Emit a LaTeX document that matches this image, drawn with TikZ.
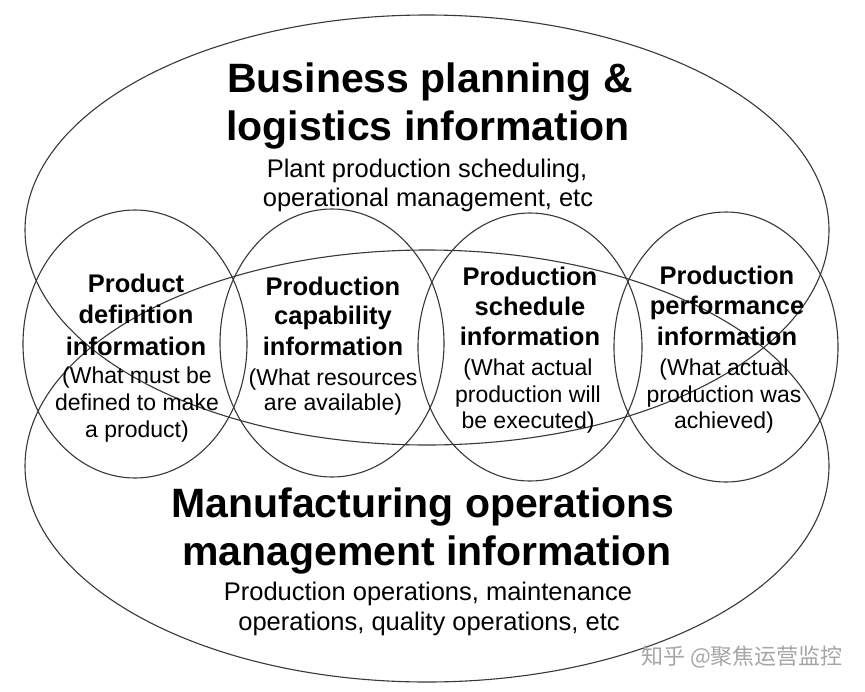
\documentclass[tikz,border=0pt]{standalone}
\usepackage{fontspec}
\setmainfont{Liberation Sans}
\newfontfamily\cjkfont{Noto Sans CJK SC}
\usetikzlibrary{shapes.geometric}
\begin{document}
\begin{tikzpicture}[x=1pt,y=-1pt,
  outline/.style={draw=black!78, line width=1.1pt, ellipse, inner sep=0pt, outer sep=0pt},
  bigtitle/.style={font=\fontsize{41}{47}\selectfont\bfseries, anchor=base, inner sep=0pt},
  subtext/.style={font=\fontsize{25.5}{30}\selectfont, anchor=base, inner sep=0pt},
  ctitle/.style={font=\fontsize{25.5}{31}\selectfont\bfseries, anchor=base, inner sep=0pt},
  ctext/.style={font=\fontsize{23}{27}\selectfont, anchor=base, inner sep=0pt},
  wmark/.style={font=\fontsize{22}{26}\selectfont\cjkfont, text=black!35, anchor=base, inner sep=0pt}
]
\useasboundingbox (0,0) rectangle (865,691);
\fill[white] (0,0) rectangle (865,691);

% big ellipses
\node[outline, minimum width=804pt, minimum height=430pt] (biz) at (427,230) {};
\node[outline, minimum width=804pt, minimum height=432pt] (mom) at (427,466) {};

% four circles
\node[outline, minimum width=224pt, minimum height=268pt] (c1) at (135,344) {};
\node[outline, minimum width=224pt, minimum height=268pt] (c2) at (332,343) {};
\node[outline, minimum width=224pt, minimum height=268pt] (c3) at (530,347) {};
\node[outline, minimum width=224pt, minimum height=270pt] (c4) at (726,347) {};

% top text
\node[bigtitle] (bt1) at (430,92) {Business planning \&};
\node[bigtitle] (bt2) at (428,140) {logistics information};
\node[subtext] (bs1) at (427,177) {Plant production scheduling,};
\node[subtext] (bs2) at (428,206) {operational management, etc};

% bottom text
\node[bigtitle] (mt1) at (423,517) {Manufacturing operations};
\node[bigtitle] (mt2) at (427,565) {management information};
\node[subtext] (ms1) at (428,600) {Production operations, maintenance};
\node[subtext] (ms2) at (429,630) {operations, quality operations, etc};

% circle 1
\node[ctitle] (a1) at (136,292) {Product};
\node[ctitle] (a2) at (136,323) {definition};
\node[ctitle] (a3) at (136,355) {information};
\node[ctext] (a4) at (137,383) {(What must be};
\node[ctext] (a5) at (137,410) {defined to make};
\node[ctext] (a6) at (137,437) {a product)};

% circle 2
\node[ctitle] (b1) at (333,295) {Production};
\node[ctitle] (b2) at (333,324) {capability};
\node[ctitle] (b3) at (333,355) {information};
\node[ctext] (b4) at (333,385) {(What resources};
\node[ctext] (b5) at (333,410) {are available)};

% circle 3
\node[ctitle] (d1) at (530,285) {Production};
\node[ctitle] (d2) at (530,315) {schedule};
\node[ctitle] (d3) at (530,345) {information};
\node[ctext] (d4) at (528,375) {(What actual};
\node[ctext] (d5) at (528,402) {production will};
\node[ctext] (d6) at (528,428) {be executed)};

% circle 4
\node[ctitle] (e1) at (727,284) {Production};
\node[ctitle] (e2) at (727,314) {performance};
\node[ctitle] (e3) at (727,345) {information};
\node[ctext] (e4) at (724,375) {(What actual};
\node[ctext] (e5) at (724,402) {production was};
\node[ctext] (e6) at (724,428) {achieved)};

% watermark
\node[wmark] (wm) at (742,664) {知乎 @聚焦运营监控};
\end{tikzpicture}
\end{document}
